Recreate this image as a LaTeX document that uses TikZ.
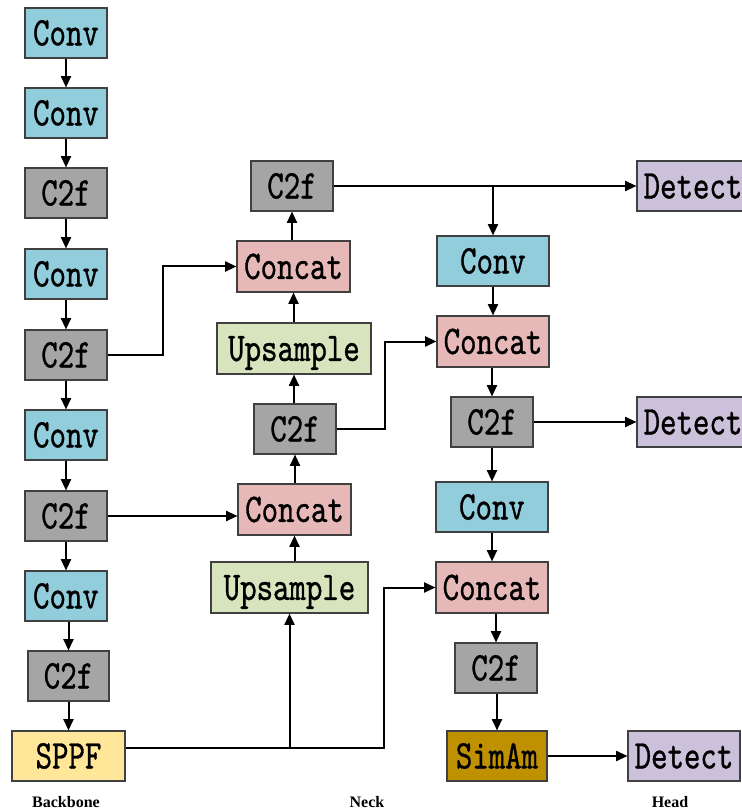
\documentclass[tikz,border=0pt]{standalone}
\usepackage{fontspec}
\setmainfont{Liberation Serif}
\newfontfamily\boxfont[FakeStretch=0.77,FakeBold=0.8]{lmmono10-regular.otf}
\definecolor{convblue}{RGB}{146, 205, 220}
\definecolor{cfgray}{RGB}{165, 165, 165}
\definecolor{catpink}{RGB}{230, 185, 184}
\definecolor{upgreen}{RGB}{215, 228, 189}
\definecolor{detlilac}{RGB}{204, 193, 218}
\definecolor{sppfyel}{RGB}{255, 230, 153}
\definecolor{simgold}{RGB}{191, 144, 0}
\usetikzlibrary{arrows.meta}

\begin{document}
\begin{tikzpicture}[x=0.75pt, y=-0.75pt,
  blk/.style={draw=black!75, line width=0.8pt, minimum height=37.5pt, inner sep=0pt,
    text height=18.6pt, text depth=0pt, font=\boxfont\fontsize{30.5}{31}\selectfont},
  conv/.style={blk, fill=convblue, minimum width=61.5pt},
  cf/.style={blk, fill=cfgray, minimum width=61.5pt},
  cat/.style={blk, fill=catpink, minimum width=84.75pt, minimum height=38.25pt},
  ups/.style={blk, fill=upgreen, minimum width=115.5pt, minimum height=38.25pt},
  det/.style={blk, fill=detlilac, minimum width=84pt},
  arr/.style={line width=1.5pt, -{Triangle[length=8.5pt, width=7.5pt]}},
  part/.style={font=\bfseries\fontsize{12}{12}\selectfont}]
  \useasboundingbox (0,0) rectangle (741,812);

  % backbone
  \node[conv] (b1) at (66,33) {Conv};
  \node[conv] (b2) at (66,113) {Conv};
  \node[cf]   (b3) at (66,193) {C2f};
  \node[conv] (b4) at (66,274) {Conv};
  \node[cf]   (b5) at (66,355) {C2f};
  \node[conv] (b6) at (66,435) {Conv};
  \node[cf]   (b7) at (66,516) {C2f};
  \node[conv] (b8) at (66,596) {Conv};
  \node[cf, minimum width=60.75pt] (b9) at (68.5,676) {C2f};
  \node[blk, fill=sppfyel, minimum width=84.75pt] (sppf) at (68.5,756) {SPPF};

  % neck
  \node[cf]  (n1) at (292,186) {C2f};
  \node[cat] (n2) at (293.5,266.5) {Concat};
  \node[ups] (n3) at (294,348.5) {Upsample};
  \node[cf]  (n4) at (295,429) {C2f};
  \node[cat] (n5) at (294.5,509.5) {Concat};
  \node[ups, minimum width=117.75pt] (n6) at (289.5,587.5) {Upsample};

  \node[conv, minimum width=84pt] (h1) at (493,261) {Conv};
  \node[cat, minimum width=84pt]  (h2) at (493,341.5) {Concat};
  \node[cf]   (h3) at (492,422) {C2f};
  \node[conv, minimum width=84pt] (h4) at (492,507) {Conv};
  \node[cat, minimum width=84pt]  (h5) at (492,587.5) {Concat};
  \node[cf]   (h6) at (496,668) {C2f};
  \node[blk, fill=simgold, minimum width=75pt] (sim) at (497,756) {SimAm};

  % head
  \node[det] (d1) at (693,186) {Detect};
  \node[det] (d2) at (693,422) {Detect};
  \node[det] (d3) at (684,756) {Detect};

  % straight down / up links
  \foreach \a/\b in {b1/b2, b2/b3, b3/b4, b4/b5, b5/b6, b6/b7, b7/b8, b8/b9, b9/sppf,
                     h1/h2, h2/h3, h3/h4, h4/h5, h5/h6, h6/sim}
    \draw[arr] (\a.south -| \b.north) -- (\b.north);
  \foreach \a/\b in {n6/n5, n5/n4, n4/n3, n3/n2, n2/n1}
    \draw[arr] (\a.north -| \b.south) -- (\b.south);

  % cross links
  \draw[arr] (b5.east) -- ++(55,0) |- (n2.west);
  \draw[arr] (b7.east) -- (b7.east -| n5.west);
  \coordinate (s1) at ([yshift=6pt]sppf.east);
  \draw[arr] (s1) -- (384,748) |- (h5.west);
  \draw[arr] (s1 -| n6.south) -- (n6.south);
  \draw[arr] (n4.east) -- ++(48,0) |- (h2.west);
  \draw[arr] (n1.east) -- (d1.west);
  \draw[arr] (n1.east -| h1.north) -- (h1.north);
  \draw[arr] (h3.east) -- (d2.west);
  \draw[arr] (sim.east) -- (d3.west);

  \node[part] (lb) at (66,802) {Backbone};
  \node[part] (ln) at (367,802) {Neck};
  \node[part] (lh) at (670,802) {Head};
\end{tikzpicture}
\end{document}
